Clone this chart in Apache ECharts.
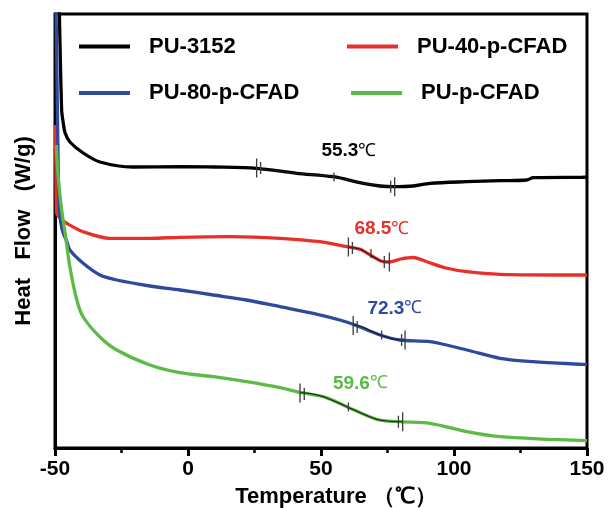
<!DOCTYPE html>
<html>
<head>
<meta charset="utf-8">
<script src="https://cdn.jsdelivr.net/npm/echarts@6/dist/echarts.min.js"></script>
<style>
  html, body { margin: 0; padding: 0; background: #fff; }
  #chart { width: 608px; height: 508px; }
</style>
</head>
<body>
<div id="chart"></div>
<script>
// ---- Data (x = temperature in °C, y = heat flow, arbitrary units) ----
const seriesNames = ['PU-3152', 'PU-40-p-CFAD', 'PU-80-p-CFAD', 'PU-p-CFAD'];
const seriesColors = ['#000000', '#e8302b', '#2d4a9f', '#5cba47'];

const pu3152 = [[-48.6,450],[-48.4,438],[-47.5,338],[-46.9,325],[-46.2,315],[-44.4,306],[-39.4,295],[-33.1,286],[-20.7,281],[-3,281.3],[10,281],[25.8,279.7],[40.9,274.7],[54.6,271.3],[65.9,264.7],[72.2,262],[77.2,261.3],[84.7,262],[91,264.7],[104.8,266.3],[117.3,267.3],[127.3,268],[129.8,270.3],[148,270.7],[150,270.8]];

const pu40 = [[-49.8,323],[-49.6,270],[-49.4,235],[-47.8,229],[-45.6,224.7],[-39.4,216.3],[-29.3,209.7],[-14.3,209.7],[-3,210.7],[15.8,211.3],[34.6,209.7],[49.6,206.3],[59.7,201.3],[64.7,198.7],[69.1,192],[73.4,186.3],[75.5,186],[80,189],[84.6,190.5],[90,186],[97,180],[104.8,176.3],[117.3,173.7],[148,173],[150,173]];

const pu80 = [[-49.6,440],[-49.3,380],[-48.9,300],[-48.5,245],[-47.8,225],[-46.8,214],[-45.6,207],[-44.4,198],[-39.4,184.7],[-33.1,173],[-26.8,168],[-14.3,162],[-3,158],[9.5,153],[22,148],[34.6,141.3],[47.1,134.7],[57.1,128],[62.8,123],[72.2,113],[79.7,108],[91,106.3],[104.8,98],[117.3,89.7],[129.7,86.3],[148,83.7],[150,83.6]];

const puPure = [[-49.5,303],[-48.8,271],[-47.5,238],[-46.2,215],[-44.4,181],[-41.8,148],[-39.4,131],[-33.1,111],[-26.8,98],[-14.3,83],[-3,75.3],[9.5,71.3],[22,66.3],[34.6,60.3],[42.7,55.3],[50.9,51.3],[59.7,41.3],[70.9,28.7],[79.7,26.3],[91,24.7],[104.8,16.3],[117.3,11.3],[136,8.7],[150,7.3]];

// Glass-transition analysis marks: onset pair, midpoint, end pair  [T, y]
const onsetMarks = [
  [[25.8,280],[27.3,280]],
  [[60.3,201],[61.8,200]],
  [[62.1,122.5],[63.6,121]],
  [[42.1,55],[43.7,54]]
];
const midMarks = [
  [54.9,271],
  [68.8,194.5],
  [72.8,113],
  [60.3,41]
];
const endMarks = [
  [[76.2,261.3],[77.7,261.3]],
  [[73.8,186],[75.7,186]],
  [[80.3,108],[81.6,108]],
  [[79.1,26.3],[80.7,26.3]]
];

// Tg annotations
const tgTexts = ['55.3', '68.5', '72.3', '59.6'];
const tgLabelPos = [[60.5,297],[72.9,219],[77.8,139.5],[64.8,64.5]];

// Axis
const xTicks = [-50, 0, 50, 100, 150];

// ---- Build chart ----
const FONT = '"Liberation Sans", Arial, Helvetica, sans-serif';
const curves = [pu3152, pu40, pu80, puPure];

const series = [];
curves.forEach((d, i) => {
  series.push({
    name: seriesNames[i],
    type: 'line',
    data: d,
    smooth: 0.3,
    showSymbol: false,
    symbol: 'none',
    clip: true,
    lineStyle: { color: seriesColors[i], width: 3.3 },
    itemStyle: { color: seriesColors[i] },
    z: 3
  });
});

// thin dark overlay along transition region
curves.forEach((d, i) => {
  const t0 = onsetMarks[i][0][0];
  const t1 = endMarks[i][1][0];
  const seg = [onsetMarks[i][0]].concat(d.filter(p => p[0] > t0 && p[0] < t1)).concat([endMarks[i][1]]);
  series.push({
    name: 'overlay' + i,
    type: 'line',
    data: seg,
    smooth: 0.3,
    symbol: 'none',
    lineStyle: { color: '#1a1a1a', width: 1.1 },
    z: 4,
    silent: true
  });
});

// tick marks
curves.forEach((d, i) => {
  const pts = [];
  pts.push({ value: onsetMarks[i][0], symbolSize: [1.3, 19] });
  pts.push({ value: onsetMarks[i][1], symbolSize: [1.3, 12] });
  pts.push({ value: midMarks[i], symbolSize: [1.3, 9] });
  pts.push({ value: endMarks[i][0], symbolSize: [1.3, 12] });
  pts.push({ value: endMarks[i][1], symbolSize: [1.3, 19] });
  series.push({
    name: 'ticks' + i,
    type: 'scatter',
    data: pts,
    symbol: 'rect',
    itemStyle: { color: '#3a3a3a', opacity: 1 },
    z: 5,
    silent: true
  });
});

// Tg labels
series.push({
  name: 'tgLabels',
  type: 'scatter',
  symbolSize: 0,
  silent: true,
  z: 6,
  itemStyle: { opacity: 1 },
  data: tgTexts.map((t, i) => ({
    value: tgLabelPos[i],
    label: {
      show: true,
      position: 'inside',
      opacity: 1,
      formatter: '{n|' + t + '}{u|℃}',
      rich: {
        n: { fontFamily: FONT, fontSize: 19, fontWeight: 'bold', color: seriesColors[i], opacity: 1 },
        u: { fontFamily: FONT, fontSize: 18, fontWeight: 'normal', color: seriesColors[i], opacity: 1 }
      }
    }
  }))
});

const legendPos = [[79, 35.5], [347, 35.5], [79, 82], [351, 82]];
const legends = seriesNames.map((n, i) => ({
  data: [n],
  left: legendPos[i][0],
  top: legendPos[i][1],
  padding: 0,
  icon: 'rect',
  itemWidth: 51,
  itemHeight: 4,
  selectedMode: false,
  textStyle: { fontFamily: FONT, fontSize: 22, fontWeight: 'bold', color: '#000', padding: [0, 0, 0, 14] }
}));

const option = {
  animation: false,
  backgroundColor: '#fff',
  legend: legends,
  grid: { left: 55, right: 21, top: 14, bottom: 60, show: true, borderColor: '#000', borderWidth: 3, containLabel: false, outerBoundsMode: 'none' },
  xAxis: {
    type: 'value',
    min: xTicks[0],
    max: xTicks[xTicks.length - 1],
    interval: xTicks[1] - xTicks[0],
    axisLine: { show: true, lineStyle: { color: '#000', width: 3 } },
    axisTick: { show: true, inside: false, length: 8, lineStyle: { color: '#000', width: 3 } },
    minorTick: { show: true, splitNumber: 2, length: 5, lineStyle: { color: '#000', width: 2.5 } },
    splitLine: { show: false },
    axisLabel: { fontFamily: FONT, fontSize: 21, fontWeight: 'bold', color: '#000', margin: 11 },
    name: 'Temperature （℃）',
    nameLocation: 'middle',
    nameGap: 38,
    nameTextStyle: { fontFamily: FONT, fontSize: 22, fontWeight: 'bold', color: '#000', padding: [0, 0, 0, 30] }
  },
  yAxis: {
    type: 'value',
    min: 0,
    max: 434,
    axisLine: { show: true, onZero: false, lineStyle: { color: '#000', width: 3 } },
    axisTick: { show: false },
    axisLabel: { show: false },
    splitLine: { show: false },
    name: 'Heat   Flow   (W/g)',
    nameLocation: 'middle',
    nameGap: 20,
    nameRotate: 90,
    nameTextStyle: { fontFamily: FONT, fontSize: 22, fontWeight: 'bold', color: '#000' }
  },
  series: series
};

const chart = echarts.init(document.getElementById('chart'), null, { renderer: 'canvas' });
chart.setOption(option);
</script>
</body>
</html>
